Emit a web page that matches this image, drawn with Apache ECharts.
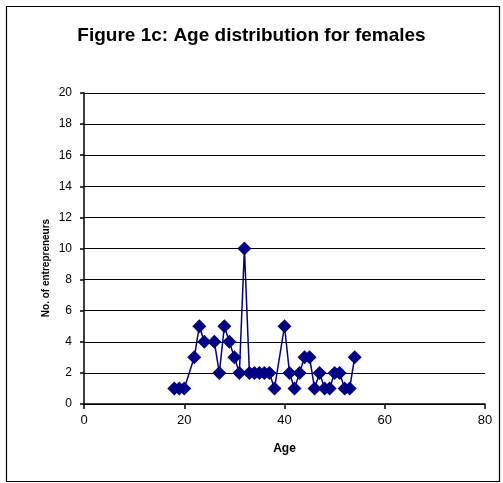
<!DOCTYPE html>
<html><head><meta charset="utf-8">
<script src="https://cdn.jsdelivr.net/npm/echarts@6/dist/echarts.min.js"></script>
<style>html,body{margin:0;padding:0;background:#fff}#c{width:503px;height:483px}</style>
</head><body><div id="c"></div>
<script>
const titleText = "Figure 1c: Age distribution for females";
const xAxisName = "Age";
const yAxisName = "No. of entrepreneurs";
const ages   = [18,19,20,22,23,24,26,27,28,29,30,31,32,33,34,35,36,37,38,40,41,42,43,44,45,46,47,48,49,50,51,52,53,54];
const counts = [1, 1, 1, 3, 5, 4, 4, 2, 5, 4, 3, 2, 10,2, 2, 2, 2, 2, 1, 5, 2, 1, 2, 3, 3, 1, 2, 1, 1, 2, 2, 1, 1, 3];

const chart = echarts.init(document.getElementById('c'), null, {renderer:'canvas'});
const font = '"Liberation Sans", Arial, sans-serif';
chart.setOption({
  animation:false,
  backgroundColor:'#fff',
  title:{text:titleText,left:'center',top:21,textStyle:{fontFamily:font,fontSize:19,fontWeight:'bold',color:'#000'}},
  grid:{left:84,right:18,top:93,bottom:79},
  xAxis:{type:'value',min:0,max:80,interval:20,
    name:xAxisName,nameLocation:'middle',nameGap:39,
    nameTextStyle:{fontFamily:font,fontSize:12,fontWeight:'bold',color:'#000'},
    axisLine:{lineStyle:{color:'#000',width:1.5}},
    axisTick:{show:true,inside:false,length:5,lineStyle:{color:'#000',width:1.5}},
    axisLabel:{fontFamily:font,fontSize:13,color:'#000',margin:10},
    splitLine:{show:false}},
  yAxis:{type:'value',min:0,max:20,interval:2,
    axisLine:{show:true,lineStyle:{color:'#000',width:1.5}},
    axisTick:{show:true,length:4,lineStyle:{color:'#000',width:1.5}},
    axisLabel:{fontFamily:font,fontSize:12,color:'#000',margin:12},
    splitLine:{show:true,lineStyle:{color:'#000',width:1}}},
  graphic:[
    {type:'rect',left:4,top:4,shape:{width:493,height:475},style:{fill:null,stroke:'#000',lineWidth:1.2},silent:true,z:-1},
    {type:'text',x:46,y:268,rotation:Math.PI/2,style:{text:yAxisName,font:'bold 10px '+font,fill:'#000',align:'center',verticalAlign:'middle'}}
  ],
  series:[{type:'line',data:ages.map((a,i)=>[a,counts[i]]),
    symbol:'diamond',symbolSize:14,
    lineStyle:{color:'#000080',width:1.5},
    itemStyle:{color:'#000080'}}]
});
</script></body></html>
